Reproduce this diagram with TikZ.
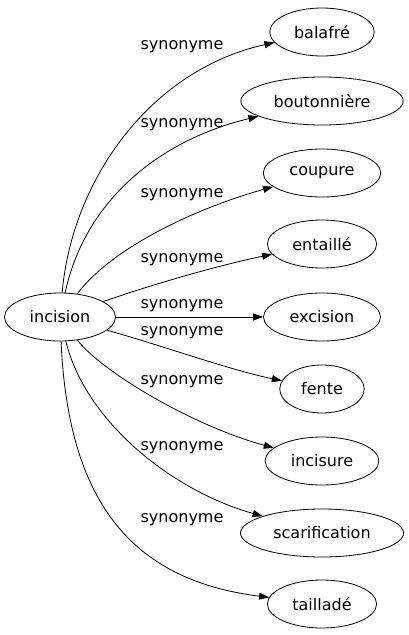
\documentclass[tikz,border=0pt]{standalone}
\usepackage{fontspec}
\setmainfont{DejaVu Sans}
\usetikzlibrary{arrows.meta,shapes.geometric}
\tikzset{
  word/.style={draw,ellipse,line width=0.8pt,minimum height=48pt,inner xsep=9pt,inner ysep=2pt,font=\fontsize{16}{18}\selectfont},
  syn/.style={font=\fontsize{16}{18}\selectfont},
  rel/.style={line width=0.8pt,-{Triangle[length=10pt,width=7pt]}}
}
\begin{document}
\begin{tikzpicture}[x=1pt,y=-1pt]
\useasboundingbox (0,0) rectangle (409,635);
\node[word] (inc) at (60,317) {incision};
\foreach \n/\t/\y in {bal/balafré/32,bou/boutonnière/101,cou/coupure/173,ent/entaillé/244,exc/excision/317,fen/fente/389,ins/incisure/461,sca/scarification/533,tai/tailladé/604}
  \node[word] (\n) at (322,\y) {\t};
\foreach \k/\y in {1/47,2/125,3/195,4/260,5/306,6/333,7/382,8/448,9/520}
  \node[syn] (lab\k) at (182,\y) {synonyme};
\draw[rel] (inc) .. controls (72,180) and (150,70) .. (bal);
\draw[rel] (inc) .. controls (85,200) and (160,140) .. (bou);
\draw[rel] (inc) .. controls (110,250) and (190,210) .. (cou);
\draw[rel] (inc) .. controls (150,285) and (220,265) .. (ent);
\draw[rel] (inc) -- (exc);
\draw[rel] (inc) .. controls (160,345) and (230,370) .. (fen);
\draw[rel] (inc) .. controls (100,370) and (190,425) .. (ins);
\draw[rel] (inc) .. controls (85,420) and (170,490) .. (sca);
\draw[rel] (inc) .. controls (68,500) and (130,580) .. (tai);
\end{tikzpicture}
\end{document}
